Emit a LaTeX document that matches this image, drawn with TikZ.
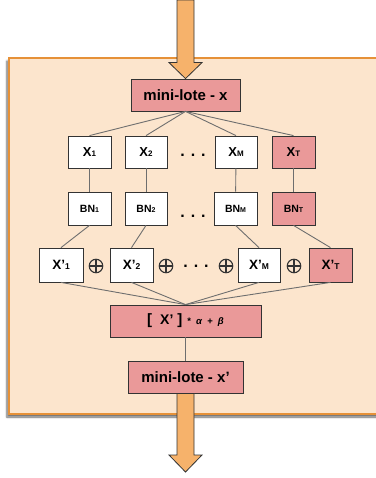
\documentclass[tikz,border=0pt]{standalone}
\usepackage{fontspec}
\setmainfont{Liberation Sans}
\usetikzlibrary{shadows.blur}
\definecolor{panelfill}{HTML}{FCE5CD}
\definecolor{paneledge}{HTML}{E69138}
\definecolor{pinkbox}{HTML}{EA9999}
\definecolor{arrowfill}{HTML}{F6B26B}
\definecolor{edgegray}{HTML}{333333}
\definecolor{linegray}{HTML}{6E6E6E}
\newcommand\sublbl[4]{{\fontsize{#3}{#3}\selectfont\bfseries #1}{\fontsize{#4}{#4}\selectfont\bfseries #2}}
\begin{document}
\begin{tikzpicture}[x=1pt,y=-1pt,
  box/.style={draw=edgegray,line width=0.8pt,fill=white,inner sep=0pt,minimum height=32pt,minimum width=43pt},
  pbox/.style={box,fill=pinkbox},
  conn/.style={draw=linegray,line width=0.9pt},
  bigarrow/.style={draw=edgegray,line width=0.8pt,fill=arrowfill,line join=miter},
  dotsnode/.style={inner sep=0pt,font=\bfseries\fontsize{16}{16}\selectfont},
  plusnode/.style={circle,draw=edgegray,line width=1.1pt,inner sep=0pt,minimum size=13.5pt,
    path picture={\draw[edgegray,line width=1.1pt]
      (path picture bounding box.north) -- (path picture bounding box.south)
      (path picture bounding box.west) -- (path picture bounding box.east);}}]
\useasboundingbox (0,0) rectangle (375,478);
% panel
\fill[panelfill,draw=paneledge,line width=1.6pt,
  blur shadow={shadow xshift=-2pt,shadow yshift=-3pt,shadow blur steps=6,shadow opacity=60}]
  (9,58) rectangle (382,414);
% nodes
\node[pbox,minimum width=109pt] (mx) at (185.5,95) {\fontsize{15}{15}\selectfont\bfseries mini-lote - x};
\node[box] (x1) at (89.5,152) {\sublbl{X}{1}{13}{8}};
\node[box,minimum width=42pt] (x2) at (146,152) {\sublbl{X}{2}{13}{8}};
\node[box,minimum width=42pt] (xm) at (236,152) {\sublbl{X}{M}{13}{8}};
\node[pbox] (xt) at (293.5,152) {\sublbl{X}{T}{13}{8}};
\node[dotsnode] (d1) at (193,155) {.\hspace{6pt}.\hspace{6pt}.};
\node[box,minimum height=33pt] (b1) at (89.5,208.5) {\sublbl{BN}{1}{10.5}{7}};
\node[box,minimum height=33pt,minimum width=42pt] (b2) at (146,208.5) {\sublbl{BN}{2}{10.5}{7}};
\node[box,minimum height=33pt] (bm) at (235.5,208.5) {\sublbl{BN}{M}{10.5}{7}};
\node[pbox,minimum height=33pt] (bt) at (293.5,208.5) {\sublbl{BN}{T}{10.5}{7}};
\node[dotsnode] (d2) at (193,216) {.\hspace{6pt}.\hspace{6pt}.};
\node[box,minimum height=34pt,minimum width=44pt] (p1) at (61,265) {\sublbl{X’}{1}{13.5}{8.5}};
\node[box,minimum height=34pt] (p2) at (131.5,265) {\sublbl{X’}{2}{13.5}{8.5}};
\node[box,minimum height=34pt,minimum width=42pt] (pm) at (259,265) {\sublbl{X’}{M}{13.5}{8.5}};
\node[pbox,minimum height=34pt] (pt) at (330.5,265) {\sublbl{X’}{T}{13.5}{8.5}};
\node[plusnode] (o1) at (96,266) {};
\node[plusnode] (o2) at (166,266) {};
\node[plusnode] (o3) at (226,266) {};
\node[plusnode] (o4) at (294,266) {};
\node[dotsnode] (d3) at (196,266) {.\hspace{6pt}.\hspace{6pt}.};
\node[pbox,minimum width=151pt] (sc) at (185.5,321)
  {\bfseries{\fontsize{15}{15}\selectfont [}\hspace{8pt}{\fontsize{14}{14}\selectfont X’}\hspace{4pt}{\fontsize{15}{15}\selectfont ]}\hspace{5pt}{\fontsize{9.5}{9.5}\selectfont *\hspace{5pt}\textit{α}\hspace{5pt}+\hspace{5pt}\textit{β}}};
\node[pbox,minimum width=115pt] (my) at (185.5,377) {\fontsize{15}{15}\selectfont\bfseries mini-lote - x’};
% connectors
\foreach \n in {x1,x2,xm,xt} \draw[conn] (mx.south) -- (\n.north);
\draw[conn] (x1) -- (b1);
\draw[conn] (x2) -- (b2);
\draw[conn] (xm) -- (bm);
\draw[conn] (xt) -- (bt);
\draw[conn] (b1.south) -- (p1.north);
\draw[conn] (b2.south) -- (p2.north);
\draw[conn] (bm.south) -- (pm.north);
\draw[conn] (bt.south) -- (pt.north);
\foreach \n in {p1,p2,pm,pt} \draw[conn] (\n.south) -- (sc.north);
\draw[conn] (sc) -- (my);
% big arrows
\coordinate (ain) at (185.5,0);
\coordinate (aout) at (185.5,472);
\draw[bigarrow] ([xshift=-8.5pt]ain) -- ([xshift=8.5pt]ain) -- ([xshift=8.5pt,yshift=16pt]mx.north)
  -- ([xshift=16.5pt,yshift=16pt]mx.north) -- (mx.north) -- ([xshift=-16.5pt,yshift=16pt]mx.north)
  -- ([xshift=-8.5pt,yshift=16pt]mx.north) -- cycle;
\draw[bigarrow] ([xshift=-8.5pt]my.south) -- ([xshift=8.5pt]my.south) -- ([xshift=8.5pt,yshift=17pt]aout)
  -- ([xshift=16.5pt,yshift=17pt]aout) -- (aout) -- ([xshift=-16.5pt,yshift=17pt]aout)
  -- ([xshift=-8.5pt,yshift=17pt]aout) -- cycle;
\end{tikzpicture}
\end{document}
